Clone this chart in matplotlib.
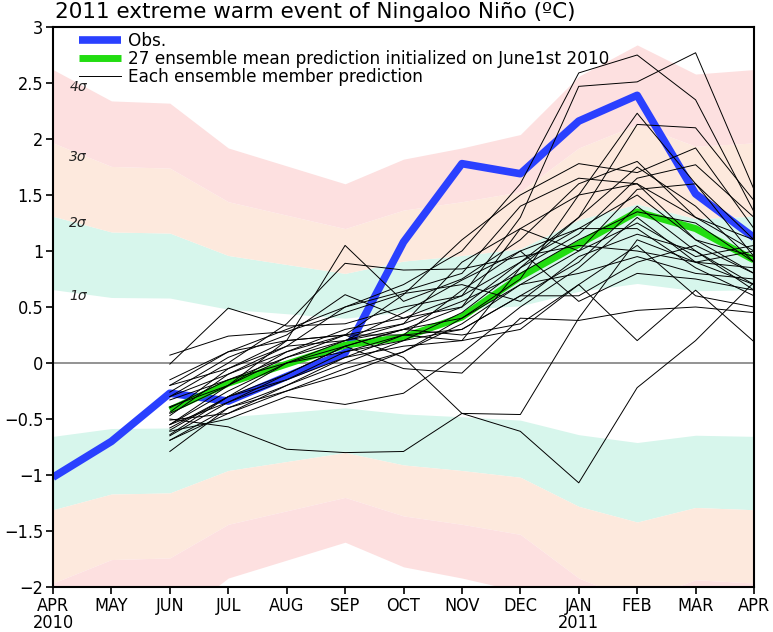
import matplotlib
matplotlib.use("Agg")
import matplotlib.pyplot as plt
from matplotlib import font_manager
import numpy as np

main_font = "DejaVu Sans"
cond = [f for f in font_manager.fontManager.ttflist
        if f.name == "DejaVu Sans" and str(f.stretch) in ("condensed", "semi-condensed", "600", "500")]
if cond:
    tick_prop = dict(family="DejaVu Sans", stretch="condensed", size=13)
else:
    tick_prop = dict(family="Liberation Sans", size=12.5)

months = ["APR\n2010", "MAY", "JUN", "JUL", "AUG", "SEP", "OCT", "NOV", "DEC",
          "JAN\n2011", "FEB", "MAR", "APR"]
# standard deviation per month (band edges are k*sigma)
sigma = [0.655, 0.585, 0.58, 0.48, 0.44, 0.40, 0.455, 0.48, 0.51, 0.64, 0.71, 0.645, 0.655]

obs = [-1.02, -0.70, -0.27, -0.34, -0.12, 0.09, 1.08, 1.78, 1.69, 2.16, 2.39, 1.51, 1.12]
ens_mean = [-0.42, -0.18, -0.01, 0.16, 0.23, 0.41, 0.77, 1.06, 1.35, 1.20, 0.92]  # JUN..APR

members = [
    [-0.55, -0.20, 0.20, 1.05, 0.55, 0.75, 1.10, 1.60, 1.80, 1.30, 1.00],
    [-0.30, 0.00, 0.35, 0.89, 0.83, 0.84, 0.95, 1.05, 1.00, 0.90, 0.85],
    [-0.01, 0.49, 0.33, 0.35, 0.50, 0.60, 0.90, 1.20, 1.50, 1.10, 0.80],
    [0.07, 0.24, 0.28, 0.45, 0.62, 0.70, 0.55, 0.95, 1.15, 1.00, 0.70],
    [-0.50, -0.57, -0.77, -0.80, -0.79, -0.45, -0.46, 0.40, 1.10, 0.90, 0.70],
    [-0.30, -0.10, 0.10, 0.25, 0.05, -0.45, -0.61, -1.07, -0.22, 0.20, 0.72],
    [-0.20, 0.10, 0.30, 0.50, 0.70, 1.00, 1.60, 2.59, 2.75, 2.35, 1.35],
    [-0.45, -0.20, 0.10, 0.30, 0.40, 0.60, 1.30, 2.47, 2.51, 2.77, 1.55],
    [-0.60, -0.30, 0.00, 0.20, 0.35, 0.90, 1.20, 1.50, 2.23, 1.60, 1.10],
    [-0.65, -0.35, -0.10, 0.15, 0.30, 0.50, 0.90, 1.30, 2.13, 2.10, 1.45],
    [-0.40, -0.15, 0.05, 0.25, 0.61, 1.10, 1.50, 1.78, 1.70, 1.92, 1.20],
    [-0.79, -0.40, -0.20, 0.00, 0.20, 0.45, 0.85, 1.15, 1.65, 1.77, 1.30],
    [-0.69, -0.45, -0.25, -0.05, 0.10, 0.35, 0.70, 1.00, 1.55, 1.60, 0.95],
    [-0.64, -0.30, -0.15, 0.10, 0.25, 0.30, 0.60, 0.90, 1.40, 1.00, 0.65],
    [-0.61, -0.50, -0.30, -0.37, -0.27, 0.09, 0.50, 0.85, 1.30, 0.90, 1.00],
    [-0.55, -0.25, 0.00, 0.15, -0.05, -0.09, 0.40, 0.38, 0.47, 0.50, 0.45],
    [-0.51, -0.45, -0.20, 0.05, 0.15, 0.20, 0.30, 0.70, 0.20, 0.65, 0.19],
    [-0.47, -0.10, 0.15, 0.20, 0.45, 0.74, 1.00, 1.20, 1.20, 0.85, 0.60],
    [-0.44, -0.05, 0.20, 0.25, 0.35, 0.55, 0.80, 1.10, 1.35, 1.25, 0.90],
    [-0.39, -0.20, 0.05, 0.20, 0.30, 0.40, 0.70, 0.80, 0.95, 0.80, 0.75],
    [-0.33, -0.15, 0.00, 0.10, 0.20, 0.30, 0.60, 0.60, 0.90, 1.05, 0.80],
    [-0.26, 0.05, 0.25, 0.61, 0.40, 0.50, 1.20, 1.00, 1.25, 0.95, 1.05],
    [-0.20, -0.05, 0.15, 0.50, 0.64, 0.80, 1.40, 1.65, 1.60, 1.10, 0.95],
    [-0.15, 0.10, 0.20, 0.25, 0.25, 0.20, 0.85, 1.30, 1.75, 1.40, 0.90],
    [-0.55, -0.35, -0.15, 0.05, 0.25, 0.65, 1.00, 0.55, 0.80, 0.75, 0.65],
    [-0.69, -0.40, -0.25, -0.10, 0.10, 0.40, 0.75, 1.50, 1.60, 1.30, 1.10],
    [-0.58, -0.30, -0.10, 0.15, 0.30, 0.25, 0.35, 0.70, 1.05, 0.60, 0.50],
]

yticks = [-2, -1.5, -1, -0.5, 0, 0.5, 1, 1.5, 2, 2.5, 3]
ytick_labels = ["\u22122", "\u22121.5", "\u22121", "\u22120.5", "0", "0.5", "1", "1.5", "2", "2.5", "3"]
sigma_labels = ["1\u03c3", "2\u03c3", "3\u03c3", "4\u03c3"]
sigma_label_y = [0.60, 1.25, 1.84, 2.46]

band_colors = ["#d7f6ec", "#fde9dd", "#fde0e0"]

fig = plt.figure(figsize=(7.73, 6.32), dpi=100)
ax = fig.add_axes([53 / 773, 1 - 587 / 632, (754 - 53) / 773, (587 - 27) / 632])

x = np.arange(len(months))
s = np.array(sigma)
for k, c in zip([1, 2, 3], band_colors):
    ax.fill_between(x, k * s, (k + 1) * s, color=c, lw=0, zorder=1)
    ax.fill_between(x, -(k + 1) * s, -k * s, color=c, lw=0, zorder=1)

ax.axhline(0, color="#808080", lw=1.2, zorder=2)

xm = x[2:]
for i, m in enumerate(members):
    ax.plot(xm, m, color="black", lw=0.7, zorder=5,
            label="Each ensemble member prediction" if i == 0 else None)
ax.plot(x, obs, color="#2a40ff", lw=5.5, zorder=3, solid_capstyle="butt", label="Obs.")
ax.plot(xm, ens_mean, color="#22dd11", lw=5, zorder=4, solid_capstyle="butt",
        label="27 ensemble mean prediction initialized on June1st 2010")

for lab, yv in zip(sigma_labels, sigma_label_y):
    ax.text(0.43, yv, lab, fontsize=10, fontstyle="italic", family=main_font,
            ha="center", va="center", color="#222222", zorder=6)

ax.set_xlim(0, 12)
ax.set_ylim(-2, 3)
ax.set_xticks(x)
ax.set_xticklabels(months, linespacing=0.95, **tick_prop)
ax.set_yticks(yticks)
ax.set_yticklabels(ytick_labels, **tick_prop)
ax.tick_params(direction="out", length=5, width=1.2, pad=2)
for sp in ax.spines.values():
    sp.set_linewidth(1.5)
    sp.set_zorder(7)

h, l = ax.get_legend_handles_labels()
order = [l.index("Obs."), l.index("27 ensemble mean prediction initialized on June1st 2010"),
         l.index("Each ensemble member prediction")]
leg = ax.legend([h[i] for i in order], [l[i] for i in order], loc="upper left",
                bbox_to_anchor=(0.02, 1.012), frameon=False, handlelength=2.5,
                handletextpad=0.4, labelspacing=0.0, borderaxespad=0.3,
                prop={"family": main_font, "size": 12.2})
leg.set_zorder(8)

fig.text(55 / 773, 1 - 2 / 632, "2011 extreme warm event of Ningaloo Ni\u00f1o (\u00baC)",
         fontsize=15.5, family=main_font, ha="left", va="top")

fig.savefig("out.png", dpi=100)
